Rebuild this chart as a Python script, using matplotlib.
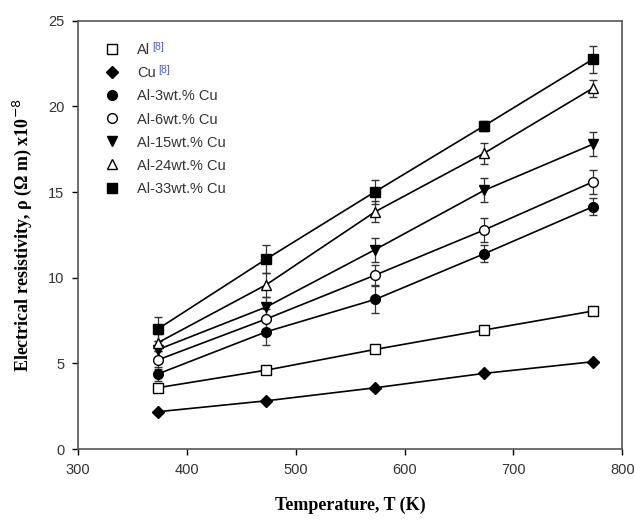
import numpy as np
import matplotlib
matplotlib.use('agg')
import matplotlib.pyplot as plt
from matplotlib.lines import Line2D

# temperatures (K)
temps = [373, 473, 573, 673, 773]

# resistivity values (x1e-8 Ohm m)
al = [3.58, 4.61, 5.82, 6.95, 8.06]
cu = [2.18, 2.82, 3.58, 4.42, 5.10]
al3 = [4.38, 6.85, 8.74, 11.4, 14.15]
al6 = [5.2, 7.6, 10.16, 12.79, 15.6]
al15 = [5.8, 8.3, 11.65, 15.1, 17.8]
al24 = [6.2, 9.6, 13.86, 17.27, 21.07]
al33 = [7.0, 11.1, 15.03, 18.87, 22.76]

# error bars
err3 = [0.4, 0.8, 0.8, 0.5, 0.5]
err6 = [0.5, 0.6, 0.6, 0.7, 0.7]
err15 = [0.5, 0.6, 0.7, 0.7, 0.7]
err24 = [0.5, 0.7, 0.6, 0.6, 0.5]
err33 = [0.7, 0.8, 0.7, 0.3, 0.8]

labels = ['Al', 'Cu', 'Al-3wt.% Cu', 'Al-6wt.% Cu', 'Al-15wt.% Cu',
          'Al-24wt.% Cu', 'Al-33wt.% Cu']

fig = plt.figure(figsize=(6.35, 5.21), dpi=100)
ax = fig.add_axes([0.123, 0.138, 0.857, 0.822])

sans = 'Liberation Sans'
serif = 'Liberation Serif'

handles = []

def series(y, err, marker, face, label, ms=7):
    if err is None:
        ax.plot(temps, y, color='black', lw=1.2, marker=marker, ms=ms,
                mfc=face, mec='black', mew=1.0)
    else:
        ax.errorbar(temps, y, yerr=err, color='black', lw=1.2, marker=marker,
                    ms=ms, mfc=face, mec='black', mew=1.0,
                    ecolor='#333333', elinewidth=0.9, capsize=3, capthick=0.9)
    # marker-only handle for the legend
    handles.append(Line2D([], [], ls='none', marker=marker, ms=ms,
                          mfc=face, mec='black', mew=1.0, label=label))

series(al, None, 's', 'white', labels[0])
series(cu, None, 'D', 'black', labels[1], ms=6.5)
series(al3, err3, 'o', 'black', labels[2])
series(al6, err6, 'o', 'white', labels[3])
series(al15, err15, 'v', 'black', labels[4])
series(al24, err24, '^', 'white', labels[5])
series(al33, err33, 's', 'black', labels[6])

ax.set_xlim(300, 800)
ax.set_ylim(0, 25)
ax.set_xticks([300, 400, 500, 600, 700, 800])
ax.set_yticks([0, 5, 10, 15, 20, 25])
ax.tick_params(direction='out', length=4, width=1, labelsize=10.5, pad=6)
for t in ax.get_xticklabels() + ax.get_yticklabels():
    t.set_fontfamily(sans)
    t.set_color('#333333')
for s in ax.spines.values():
    s.set_linewidth(1.2)
    s.set_color('#555555')

ax.set_xlabel('Temperature, T (K)', fontfamily=serif, fontweight='bold',
              fontsize=13, labelpad=14)
ax.set_ylabel('Electrical resistivity, ρ (Ω m) x10$^{-8}$',
              fontfamily=serif, fontweight='bold', fontsize=13, labelpad=10)

leg = ax.legend(handles=handles, loc='upper left', frameon=False,
                bbox_to_anchor=(0.028, 0.978), prop={'family': sans, 'size': 10.5},
                handlelength=0.8, handletextpad=1.3, labelspacing=0.62)
for t in leg.get_texts():
    t.set_color('#333333')

# blue citation markers after Al and Cu
fig.canvas.draw()
renderer = fig.canvas.get_renderer()
for t in leg.get_texts()[:2]:
    bb = t.get_window_extent(renderer)
    fig.text(bb.x1 + 2, bb.y1 + 1, '[8]', color='#4a5ad8', fontsize=7.5,
             fontfamily=sans, va='top', transform=None)

fig.savefig('out.png', dpi=100)
